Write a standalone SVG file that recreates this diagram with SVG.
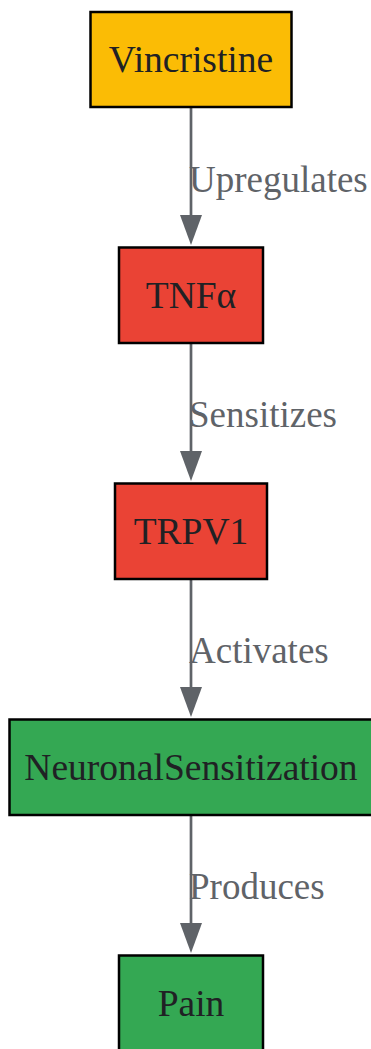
<svg xmlns="http://www.w3.org/2000/svg" width="371" height="1049" viewBox="0 0 371 1049">
<style>
.box{stroke:#000;stroke-width:2.5}
.nt{font-family:"Liberation Serif",serif;font-size:37.5px;fill:#202124;text-anchor:middle}
.el{font-family:"Liberation Serif",serif;font-size:37px;fill:#5f6368}
.edge{stroke:#5f6368;stroke-width:2.7;fill:none}
.ah{fill:#5f6368}
</style>
<rect width="371" height="1049" fill="#fff"/>
<g id="connectors">
<g id="e1"><line class="edge" x1="191" y1="107" x2="191" y2="215"/><path class="ah" d="M180,215 L202,215 L191,245 Z"/><text class="el" x="189" y="192">Upregulates</text></g>
<g id="e2"><line class="edge" x1="191" y1="343" x2="191" y2="451"/><path class="ah" d="M180,451 L202,451 L191,481 Z"/><text class="el" x="189" y="427">Sensitizes</text></g>
<g id="e3"><line class="edge" x1="191" y1="579" x2="191" y2="687"/><path class="ah" d="M180,687 L202,687 L191,717 Z"/><text class="el" x="189" y="663">Activates</text></g>
<g id="e4"><line class="edge" x1="191" y1="815" x2="191" y2="923"/><path class="ah" d="M180,923 L202,923 L191,953 Z"/><text class="el" x="189" y="899">Produces</text></g>
</g>
<g id="Vincristine"><rect class="box" x="90.5" y="12" width="201" height="95" fill="#fbbc05"/><text class="nt" x="191" y="72">Vincristine</text></g>
<g id="TNFa"><rect class="box" x="119" y="247.5" width="144" height="95.5" fill="#ea4335"/><text class="nt" x="191" y="308">TNFα</text></g>
<g id="TRPV1"><rect class="box" x="115" y="483.5" width="152" height="95.5" fill="#ea4335"/><text class="nt" x="191" y="544">TRPV1</text></g>
<g id="NeuronalSensitization"><rect class="box" x="9.5" y="719.5" width="366" height="95.5" fill="#34a853"/><text class="nt" x="191" y="780">NeuronalSensitization</text></g>
<g id="Pain"><rect class="box" x="119" y="955.5" width="144" height="100" fill="#34a853"/><text class="nt" x="191" y="1016">Pain</text></g>
</svg>
